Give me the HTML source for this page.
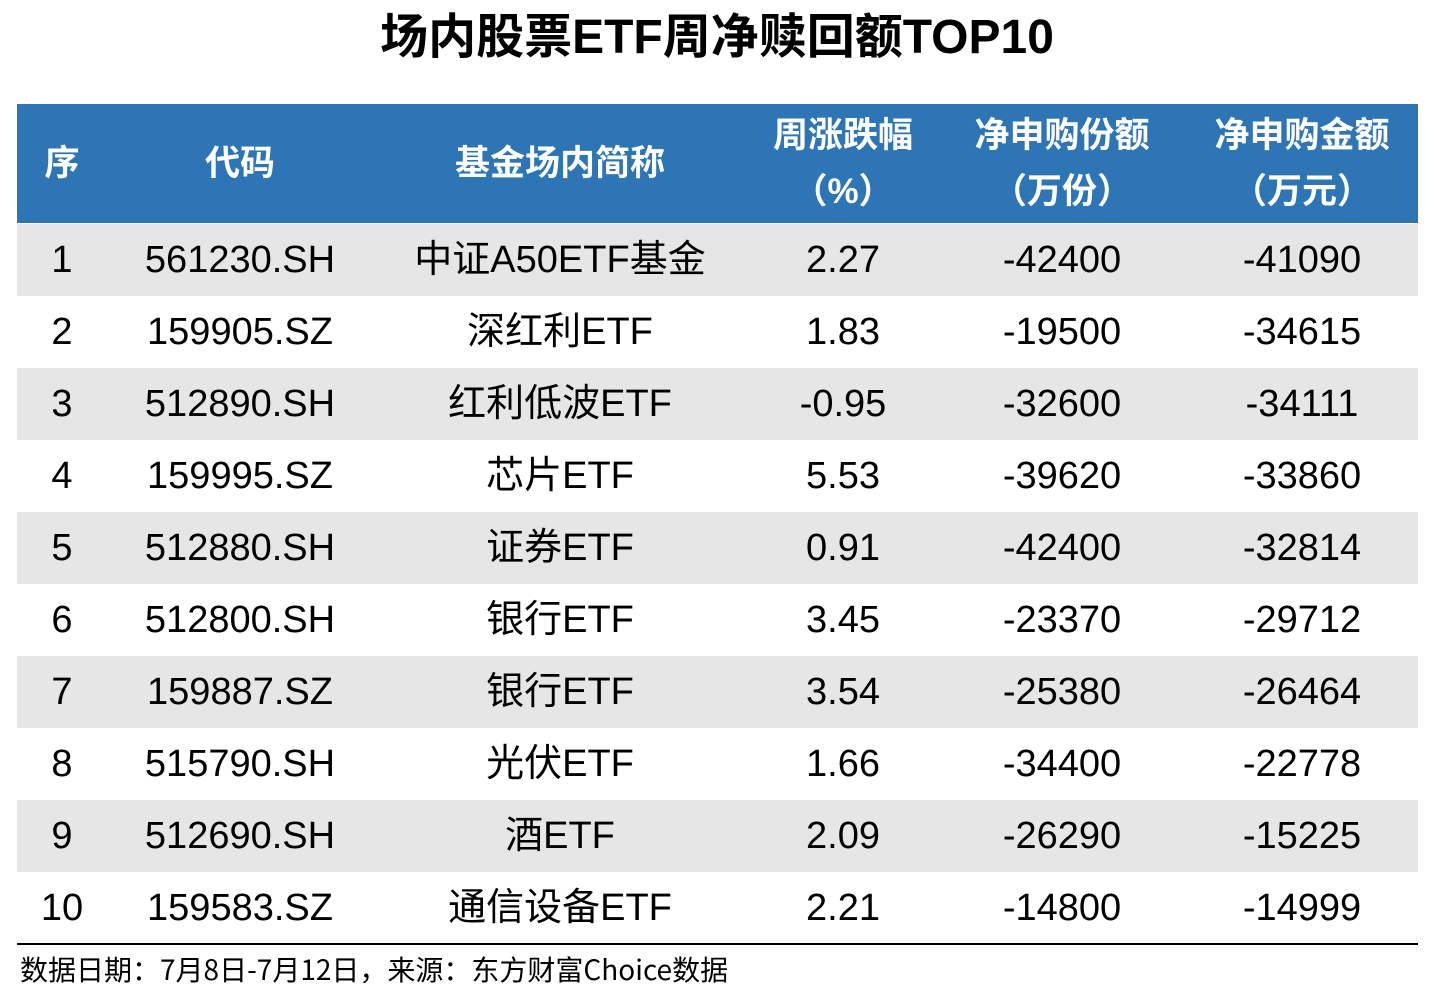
<!DOCTYPE html>
<html><head><meta charset="utf-8"><style>
body{margin:0;width:1434px;height:1000px;background:#fff;position:relative;overflow:hidden;font-family:"Liberation Sans","Noto Sans CJK SC",sans-serif;}
.title{position:absolute;left:0;width:1434px;top:9px;text-align:center;font-size:48px;font-weight:bold;color:#000;line-height:58px;}
.hdr{position:absolute;left:17px;top:104px;width:1401px;height:119px;background:#2E75B6;}
.h{position:absolute;color:#fff;font-weight:bold;font-size:35px;text-align:center;line-height:56px;}
.row{position:absolute;left:17px;width:1401px;height:72px;}
.c{position:absolute;top:0;line-height:72px;font-size:38px;color:#000;text-align:center;transform:translateX(-50%);white-space:nowrap;}
.line{position:absolute;left:17px;width:1401px;top:943px;height:2px;background:#000;}
.foot{position:absolute;left:20px;top:948px;font-size:28px;line-height:42px;color:#000;font-family:"Noto Sans CJK SC","Liberation Sans",sans-serif;white-space:nowrap;}
</style></head><body>
<div class="title">场内股票ETF周净赎回额TOP10</div>
<div class="hdr">
<div class="h" style="left:0;width:90px;top:32px">序</div>
<div class="h" style="left:123px;width:200px;top:32px">代码</div>
<div class="h" style="left:393px;width:300px;top:32px">基金场内简称</div>
<div class="h" style="left:726px;width:200px;top:4px">周涨跌幅<br>（%）</div>
<div class="h" style="left:935px;width:220px;top:4px">净申购份额<br>（万份）</div>
<div class="h" style="left:1175px;width:220px;top:4px">净申购金额<br>（万元）</div>
</div>
<div id="rows"></div>
<div class="line"></div>
<div class="foot">数据日期：7月8日-7月12日，来源：东方财富Choice数据</div>
<script>
const codes=["561230.SH","159905.SZ","512890.SH","159995.SZ","512880.SH","512800.SH","159887.SZ","515790.SH","512690.SH","159583.SZ"];
const names=["中证A50ETF基金","深红利ETF","红利低波ETF","芯片ETF","证券ETF","银行ETF","银行ETF","光伏ETF","酒ETF","通信设备ETF"];
const changes=["2.27","1.83","-0.95","5.53","0.91","3.45","3.54","1.66","2.09","2.21"];
const shares=["-42400","-19500","-32600","-39620","-42400","-23370","-25380","-34400","-26290","-14800"];
const amounts=["-41090","-34615","-34111","-33860","-32814","-29712","-26464","-22778","-15225","-14999"];
const cont=document.getElementById('rows');
const xs=[45,223,543,826,1045,1285];
codes.forEach((code,i)=>{
  const r=document.createElement('div');
  r.className='row';
  r.style.top=(224+i*72)+'px';
  r.style.background=i%2===0?'#E7E6E6':'#fff';
  
  
  const vals=[String(i+1),code,names[i],changes[i],shares[i],amounts[i]];
  const nm=['rank-cell','code-cell','name-cell','change-cell','shares-cell','amount-cell'];
  vals.forEach((v,j)=>{
    const c=document.createElement('div');
    c.className='c';
    c.style.left=xs[j]+'px';
    c.textContent=v;
    
    
    r.appendChild(c);
  });
  cont.appendChild(r);
});
</script>
</body></html>
